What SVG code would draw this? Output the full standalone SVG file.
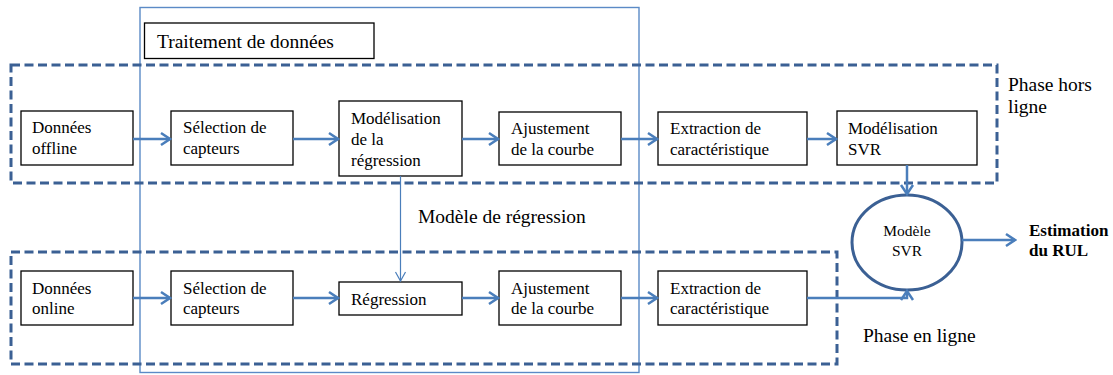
<svg xmlns="http://www.w3.org/2000/svg" width="1113" height="375" viewBox="0 0 1113 375">
<style>
text{font-family:'Liberation Serif','Times New Roman',serif;fill:#000}
.box{fill:#fff;stroke:#000;stroke-width:1.3}
.phase{fill:none;stroke:#3b6094;stroke-width:3;stroke-dasharray:9 4.5}
</style>
<defs>
<marker id="ah" markerUnits="userSpaceOnUse" markerWidth="14" markerHeight="16" viewBox="-12 -8 14 16" refX="0" refY="0" orient="auto">
<path d="M-9,-6 L0,0 L-9,6" fill="none" stroke="#4a7ebb" stroke-width="2.5"/>
</marker>
<marker id="ahs" markerUnits="userSpaceOnUse" markerWidth="14" markerHeight="16" viewBox="-12 -8 14 16" refX="0" refY="0" orient="auto">
<path d="M-9,-5 L0,0 L-9,5" fill="none" stroke="#4a7ebb" stroke-width="1.2"/>
</marker>
</defs>

<g id="traitement">
<rect x="140" y="7.5" width="499" height="365" fill="none" stroke="#5b8ac6" stroke-width="1.4"/>
<rect x="144.5" y="23" width="229.5" height="35.5" class="box"/>
<text x="157" y="48" font-size="19.5">Traitement de données</text>
</g>

<g id="phase-hors-ligne">
<rect x="11" y="65" width="986" height="118" class="phase"/>
<text x="1008" y="91" font-size="19.5">Phase hors</text>
<text x="1008" y="113" font-size="19.5">ligne</text>
</g>

<g id="phase-en-ligne">
<rect x="11" y="252" width="826" height="112" class="phase"/>
<text x="863" y="342" font-size="19.5">Phase en ligne</text>
</g>

<g id="donnees-offline" font-size="17">
<rect x="21" y="111" width="112" height="54" class="box"/>
<text x="32" y="133">Données</text>
<text x="32" y="154">offline</text>
</g>
<g id="selection-offline" font-size="17">
<rect x="171" y="111" width="122" height="54" class="box"/>
<text x="183" y="133">Sélection de</text>
<text x="183" y="154">capteurs</text>
</g>
<g id="modelisation-regression" font-size="17">
<rect x="339" y="101" width="123" height="75" class="box"/>
<text x="351" y="124">Modélisation</text>
<text x="351" y="145">de la</text>
<text x="351" y="166">régression</text>
</g>
<g id="ajustement-offline" font-size="17">
<rect x="499" y="112" width="122" height="53" class="box"/>
<text x="511" y="134">Ajustement</text>
<text x="511" y="155">de la courbe</text>
</g>
<g id="extraction-offline" font-size="17">
<rect x="658" y="112" width="149" height="53" class="box"/>
<text x="670" y="134">Extraction de</text>
<text x="670" y="155">caractéristique</text>
</g>
<g id="modelisation-svr" font-size="17">
<rect x="837" y="111" width="140" height="54" class="box"/>
<text x="848" y="134">Modélisation</text>
<text x="848" y="155">SVR</text>
</g>

<g id="donnees-online" font-size="17">
<rect x="21" y="271" width="112" height="54" class="box"/>
<text x="32" y="294">Données</text>
<text x="32" y="314">online</text>
</g>
<g id="selection-online" font-size="17">
<rect x="171" y="271" width="122" height="54" class="box"/>
<text x="183" y="294">Sélection de</text>
<text x="183" y="314">capteurs</text>
</g>
<g id="regression" font-size="17">
<rect x="339" y="282" width="123" height="33" class="box"/>
<text x="351" y="305">Régression</text>
</g>
<g id="ajustement-online" font-size="17">
<rect x="499" y="271" width="122" height="54" class="box"/>
<text x="511" y="294">Ajustement</text>
<text x="511" y="314">de la courbe</text>
</g>
<g id="extraction-online" font-size="17">
<rect x="658" y="271" width="149" height="54" class="box"/>
<text x="670" y="294">Extraction de</text>
<text x="670" y="314">caractéristique</text>
</g>

<g id="modele-svr" font-size="15.5">
<ellipse cx="907" cy="242.5" rx="55" ry="47.5" fill="#fff" stroke="#3b6094" stroke-width="3"/>
<text x="907" y="236" text-anchor="middle">Modèle</text>
<text x="907" y="256" text-anchor="middle">SVR</text>
</g>

<g id="estimation" font-size="17" font-weight="bold">
<text x="1029" y="236">Estimation</text>
<text x="1029" y="256">du RUL</text>
</g>

<g id="connectors" fill="none" stroke="#4a7ebb" stroke-width="2.5" marker-end="url(#ah)">
<line x1="133" y1="139" x2="170" y2="139"/>
<line x1="293" y1="139" x2="338" y2="139"/>
<line x1="462" y1="139" x2="498" y2="139"/>
<line x1="621" y1="139" x2="657" y2="139"/>
<line x1="807" y1="139" x2="836" y2="139"/>
<line x1="907" y1="165" x2="907" y2="194"/>
<line x1="962" y1="240" x2="1015" y2="240"/>
<line x1="133" y1="298" x2="170" y2="298"/>
<line x1="293" y1="298" x2="338" y2="298"/>
<line x1="462" y1="298" x2="498" y2="298"/>
<line x1="621" y1="298" x2="657" y2="298"/>
<path d="M807,298 H907 V291"/>
<line x1="400.5" y1="176" x2="400.5" y2="281" stroke-width="1.2" marker-end="url(#ahs)"/>
</g>
<text x="418" y="223" font-size="19.5">Modèle de régression</text>
</svg>
